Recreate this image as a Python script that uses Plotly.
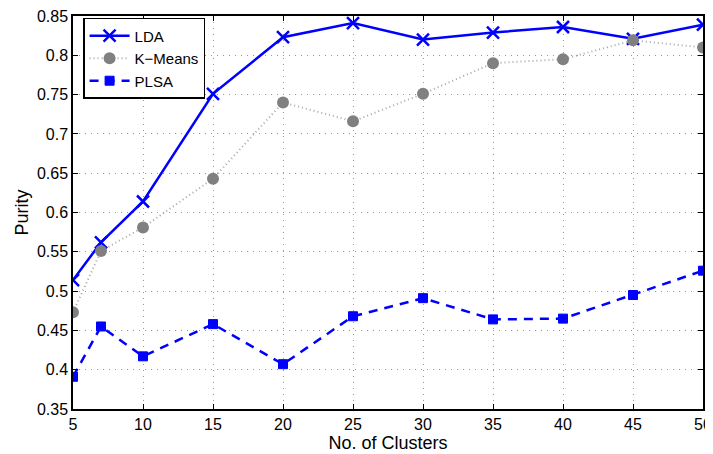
import plotly.graph_objects as go

clusters = [5, 7, 10, 15, 20, 25, 30, 35, 40, 45, 50]
lda = [0.514, 0.562, 0.614, 0.751, 0.823, 0.841, 0.820, 0.829, 0.836, 0.821, 0.839]
kmeans = [0.473, 0.551, 0.581, 0.643, 0.740, 0.716, 0.751, 0.790, 0.795, 0.819, 0.810]
plsa = [0.391, 0.455, 0.417, 0.458, 0.407, 0.468, 0.491, 0.464, 0.465, 0.495, 0.526]

x_ticks = [5, 10, 15, 20, 25, 30, 35, 40, 45, 50]
y_ticks = [0.35, 0.4, 0.45, 0.5, 0.55, 0.6, 0.65, 0.7, 0.75, 0.8, 0.85]
y_tick_text = ["0.35", "0.4", "0.45", "0.5", "0.55", "0.6", "0.65", "0.7", "0.75", "0.8", "0.85"]

fig = go.Figure()
fig.add_trace(go.Scatter(
    x=clusters, y=lda, name="LDA", mode="lines+markers",
    line=dict(color="#0000FF", width=2.5),
    marker=dict(symbol="x-thin", size=12, line=dict(color="#0000FF", width=2.5)),
))
fig.add_trace(go.Scatter(
    x=clusters, y=kmeans, name="K\u2212Means", mode="lines+markers",
    line=dict(color="#A8A8A8", width=2, dash="1px,3px"),
    marker=dict(symbol="circle", size=12, color="#808080"),
))
fig.add_trace(go.Scatter(
    x=clusters, y=plsa, name="PLSA", mode="lines+markers",
    line=dict(color="#0000FF", width=2.5, dash="9px,7px"),
    marker=dict(symbol="square", size=9, color="#0000FF",
                line=dict(color="#0000FF", width=1)),
))

axis_common = dict(
    showline=True, linecolor="black", linewidth=1.5, mirror="allticks",
    ticks="inside", ticklen=5, tickcolor="black",
    showgrid=True, gridcolor="#999999", griddash="1px,5px", gridwidth=1,
    zeroline=False, automargin=False, ticklabeloverflow="allow",
    tickfont=dict(family="Liberation Sans, Arial", size=16, color="black"),
)

# page body has an 8px margin, so the figure is offset by 8px; compensate
fig.update_layout(
    width=705, height=446,
    margin=dict(l=65, r=10, t=8, b=45),
    paper_bgcolor="white", plot_bgcolor="white",
    font=dict(family="Liberation Sans, Arial", color="black"),
    xaxis=dict(range=[5, 50], tickvals=x_ticks,
               title=dict(text="No. of Clusters", font=dict(size=18), standoff=2),
               **axis_common),
    yaxis=dict(range=[0.35, 0.85], tickvals=y_ticks, ticktext=y_tick_text,
               title=dict(text="Purity", font=dict(size=18), standoff=4),
               **axis_common),
    legend=dict(x=0.016, y=0.995, xanchor="left", yanchor="top",
                bordercolor="black", borderwidth=1.5, bgcolor="white",
                font=dict(size=15), itemwidth=40, tracegroupgap=0),
    showlegend=True,
)

fig.write_html("out.html")
